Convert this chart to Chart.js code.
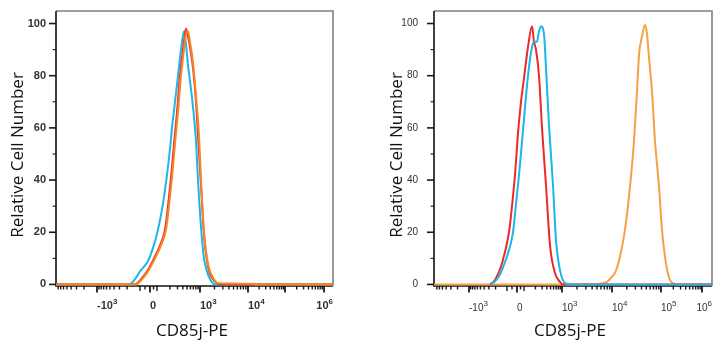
<!DOCTYPE html>
<html><head><meta charset="utf-8">
<script src="https://cdn.jsdelivr.net/npm/chart.js@4/dist/chart.umd.min.js"></script>
<style>
html,body{margin:0;padding:0;background:#fff;}
#wrap{position:relative;width:724px;height:350px;overflow:hidden;}
.pane{position:absolute;top:0;width:362px;height:350px;}
</style></head><body>
<div id="wrap">
<div class="pane" style="left:0"><canvas id="c1" width="362" height="350"></canvas></div>
<div class="pane" style="left:362px"><canvas id="c2" width="362" height="350"></canvas></div>
</div>
<script>
// ---------- DATA (x = display channel on the biexponential axis, y = relative cell number) ----------
const xTitle = "CD85j-PE";
const yTitle = "Relative Cell Number";
const yTickValues = [0, 20, 40, 60, 80, 100];
// axis anchor values (fluorescence units) and their display channels in each panel
const axisAnchorValues   = [-1000, -100, 0, 100, 1000, 10000, 100000, 1000000];
const leftAnchorChannels  = [41, 84, 94, 101, 144, 192, 229, 268];
const rightAnchorChannels = [35, 73, 83, 90, 128, 178, 227, 268];
const labeledTickValues = [-1000, 0, 1000, 10000, 100000, 1000000];
const leftTickLabels  = [["-10","3"], ["0",""], ["10","3"], ["10","4"], ["",""], ["10","6"]];
const rightTickLabels = [["-10","3"], ["0",""], ["10","3"], ["10","4"], ["10","5"], ["10","6"]];

// Left panel
const leftCyanCh    = [0,73,79,84,92,97,102,107,111,114,116,119,122,125,128,130,132,134,137,140,142,145,148,151,154,159,277];
const leftCyanCount = [0,0,2,5,9,14,21,31,42,52,60,70,80,90,97,92,84,78,68,55,40,22,10,5,2,0,0];
const leftRedCh     = [0,79,85,91,98,104,109,112,115,118,121,124,127,129,130,132,134,137,140,142,145,148,151,154,158,162,169,277];
const leftRedCount  = [0,0,2,5,10,15,21,30,41,54,66,80,90,96,98,95,91,83,70,57,38,19,9,4,1.5,0.3,0,0];
const leftOrangeCh    = [0,80,86,92,99,105,110,113,116,119,122,125,128,130,132,134,137,140,143,145,148,151,154,158,161,174,197,200,277];
const leftOrangeCount = [0,0,2,5,10,15,21,30,41,54,66,80,90,96,97,93,85,72,57,40,20,10,5,2,0.6,0.4,0.3,0,0];

// Right panel
const rightRedCh     = [56,61,68,75,78,81,84,87,90,94,98,100,102,105,108,112,116,121,126,129,278];
const rightRedCount  = [0,1.7,8,20,30,42,58,70,79,91,99,93,90,80,60,38,15,4.4,1,0,0];
const rightCyanCh    = [57,63,68,76,79,81,85,89,94,98,100,103,105,107,110,112,115,119,122,126,131,136,278];
const rightCyanCount = [0,2,5.5,14.5,20,27,42,59,80,91,93,93,97,99,96,83,61,38,17,5.5,0.5,0,0];
const rightOrangeCh    = [0,158,166,173,178,181,186,191,196,200,203,205,208,211,213,215,218,221,225,228,232,236,241,243,278];
const rightOrangeCount = [0,0,0.3,1,3,4.4,10.7,21,37.5,55,74,88,95,99.4,96,87,74,55,37.5,21,8,1.7,0.2,0,0];

// ---------- helpers ----------
function pts(xs, ys){ return xs.map((x,i)=>({x:x, y:ys[i]})); }
function tOf(v){ // display coordinate: linear within ±100, decades beyond
  if (v >= 100) return 1 + Math.log10(v/100);
  if (v <= -100) return -(1 + Math.log10(-v/100));
  return v / 100;
}
function chOf(v, anchC){
  const aT = axisAnchorValues.map(tOf);
  const t = tOf(v);
  if (t < aT[0]) { const s = (anchC[1]-anchC[0])/(aT[1]-aT[0]); return anchC[0] + (t-aT[0])*s; }
  for (let i=0;i<aT.length-1;i++){
    if (t>=aT[i] && t<=aT[i+1]) return anchC[i] + (t-aT[i])/(aT[i+1]-aT[i])*(anchC[i+1]-anchC[i]);
  }
  return anchC[anchC.length-1];
}
function minorValues(){
  const out=[-50,50];
  for (let m=2;m<=9;m++){ out.push(-m*1000); out.push(-m*100); out.push(m*100); }
  for (let k=3;k<=5;k++) for (let m=2;m<=9;m++) out.push(m*Math.pow(10,k));
  return out;
}

function makeAxesPlugin(cfg){
  return {
    id:'flowAxes',
    beforeDatasetsDraw(chart){
      const ctx=chart.ctx, a=chart.chartArea, xs=chart.scales.x, ys=chart.scales.y;
      ctx.save();
      ctx.strokeStyle='#808080'; ctx.lineWidth=1.6;
      ctx.beginPath(); ctx.moveTo(a.left,a.top); ctx.lineTo(a.right,a.top); ctx.lineTo(a.right,a.bottom); ctx.stroke();
      ctx.strokeStyle='#1a1a1a'; ctx.lineWidth=1.4;
      minorValues().forEach(v=>{
        const c=chOf(v,cfg.anchC); if (c<1||c>xs.max-1) return;
        const px=xs.getPixelForValue(c);
        ctx.beginPath(); ctx.moveTo(px,a.bottom); ctx.lineTo(px,a.bottom+3.5); ctx.stroke();
      });
      [-100,100].forEach(v=>{
        const px=xs.getPixelForValue(chOf(v,cfg.anchC));
        ctx.beginPath(); ctx.moveTo(px,a.bottom); ctx.lineTo(px,a.bottom+5); ctx.stroke();
      });
      ctx.lineWidth=1.8;
      labeledTickValues.forEach(v=>{
        const px=xs.getPixelForValue(chOf(v,cfg.anchC));
        ctx.beginPath(); ctx.moveTo(px,a.bottom); ctx.lineTo(px,a.bottom+6.5); ctx.stroke();
      });
      ctx.lineWidth=1.6;
      yTickValues.forEach(v=>{
        const py=ys.getPixelForValue(v);
        ctx.beginPath(); ctx.moveTo(a.left-7,py); ctx.lineTo(a.left,py); ctx.stroke();
      });
      ctx.lineWidth=1.1;
      for (let v=10; v<100; v+=20){
        const py=ys.getPixelForValue(v);
        ctx.beginPath(); ctx.moveTo(a.left-3.5,py); ctx.lineTo(a.left,py); ctx.stroke();
      }
      ctx.strokeStyle='#111'; ctx.lineWidth=1.6;
      ctx.beginPath(); ctx.moveTo(a.left,a.top); ctx.lineTo(a.left,a.bottom); ctx.lineTo(a.right,a.bottom); ctx.stroke();
      ctx.restore();
    },
    afterDatasetsDraw(chart){
      const ctx=chart.ctx, a=chart.chartArea, xs=chart.scales.x, ys=chart.scales.y;
      ctx.save();
      ctx.fillStyle='#333';
      ctx.font=cfg.tickFont; ctx.textAlign='right'; ctx.textBaseline='middle';
      yTickValues.forEach(v=>{ ctx.fillText(String(v), cfg.yLabelRight, ys.getPixelForValue(v)); });
      ctx.textBaseline='alphabetic';
      cfg.labels.forEach((lab,i)=>{
        if(!lab[0]) return;
        ctx.font=cfg.tickFont; const w1=ctx.measureText(lab[0]).width;
        ctx.font=cfg.supFont; const w2=lab[1]?ctx.measureText(lab[1]).width:0;
        let x=xs.getPixelForValue(chOf(labeledTickValues[i],cfg.anchC));
        if (x+w1+w2 > a.right) x=a.right-w1-w2;
        ctx.textAlign='left';
        ctx.font=cfg.tickFont; ctx.fillText(lab[0], x, cfg.xLabelBase);
        if(lab[1]){ ctx.font=cfg.supFont; ctx.fillText(lab[1], x+w1, cfg.xLabelBase-5); }
      });
      ctx.fillStyle='#111';
      ctx.font='17px "Open Sans", sans-serif';
      ctx.textAlign='center'; ctx.textBaseline='alphabetic';
      ctx.fillText(xTitle, cfg.xTitleX, 336);
      ctx.save(); ctx.translate(cfg.yTitleX, 155); ctx.rotate(-Math.PI/2);
      ctx.textBaseline='middle'; ctx.fillText(yTitle,0,0); ctx.restore();
      ctx.restore();
    }
  };
}

// datasets listed bottom-to-top; 'order' makes later ones draw on top
function makeChart(id, datasets, xmax, pad, cfg){
  return new Chart(document.getElementById(id), {
    type:'line',
    data:{datasets:datasets.map((d,i)=>({data:pts(d[0],d[1]), borderColor:d[2], borderWidth:2, pointRadius:0, fill:false,
      cubicInterpolationMode:'monotone', order: datasets.length - i}))},
    options:{
      responsive:false, animation:false, events:[],
      layout:{padding:pad},
      plugins:{legend:{display:false}, tooltip:{enabled:false}},
      scales:{
        x:{type:'linear', min:0, max:xmax, display:false},
        y:{type:'linear', min:-0.6, max:104.8, display:false}
      }
    },
    plugins:[makeAxesPlugin(cfg)]
  });
}

makeChart('c1', [
  [leftCyanCh, leftCyanCount, '#1cb6e8'],
  [leftRedCh, leftRedCount, '#e8362c'],
  [leftOrangeCh, leftOrangeCount, '#f5862a']
], 277, {left:56, right:29, top:11, bottom:64},
{anchC:leftAnchorChannels, labels:leftTickLabels, tickFont:'bold 11px Arial, "Liberation Sans", sans-serif', supFont:'bold 8px Arial, "Liberation Sans", sans-serif', yLabelRight:46, xLabelBase:309, xTitleX:192, yTitleX:18});

makeChart('c2', [
  [rightOrangeCh, rightOrangeCount, '#f5a245'],
  [rightRedCh, rightRedCount, '#ec2a2a'],
  [rightCyanCh, rightCyanCount, '#1cb6e8']
], 278, {left:72, right:12, top:11, bottom:64},
{anchC:rightAnchorChannels, labels:rightTickLabels, tickFont:'10px Arial, "Liberation Sans", sans-serif', supFont:'8px Arial, "Liberation Sans", sans-serif', yLabelRight:56, xLabelBase:311, xTitleX:208, yTitleX:35});
</script>
</body></html>
